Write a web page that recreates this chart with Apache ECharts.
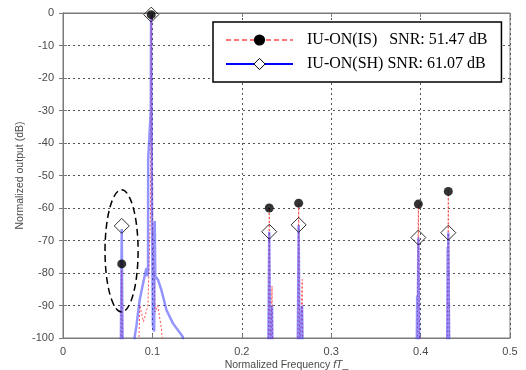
<!DOCTYPE html>
<html><head><meta charset="utf-8">
<script src="https://cdn.jsdelivr.net/npm/echarts@6/dist/echarts.min.js"></script>
<style>html,body{margin:0;padding:0;background:#fff}#c{width:526px;height:370px}</style>
</head><body><div id="c"></div>
<script>
// ---- data ----
var xTicks = ['0','0.1','0.2','0.3','0.4','0.5'];
var yTicks = ['0','-10','-20','-30','-40','-50','-60','-70','-80','-90','-100'];
var seriesNames = ['IU-ON(IS)', 'IU-ON(SH)'];
var legendLabels = ['IU-ON(IS)   SNR: 51.47 dB', 'IU-ON(SH) SNR: 61.07 dB'];
var peakFreq  = [0.0657, 0.0987, 0.2307, 0.2636, 0.3975, 0.4310];
var isPeakDb  = [-77.2, -0.5, -60.0, -58.5, -58.8, -54.9];
var shPeakDb  = [-65.5, -0.5, -67.3, -65.2, -69.1, -67.6];
// blue spectrum (SH)
var shFreq = [0, 0.0645, 0.0657, 0.0669, 0.0790, 0.0802, 0.0820, 0.0858, 0.0895, 0.0933, 0.0945, 0.0951, 0.0953, 0.0960, 0.0982, 0.0985, 0.0992, 0.0997, 0.1005, 0.1020, 0.1026, 0.1032, 0.1063, 0.1100, 0.1157, 0.1230, 0.1340, 0.1360,
              0.2295, 0.2307, 0.2319, 0.2330, 0.2338, 0.2346,
              0.2624, 0.2636, 0.2648, 0.2665, 0.2674, 0.2683,
              0.3955, 0.3962, 0.3967, 0.3975, 0.3987,
              0.4296, 0.4303, 0.4306, 0.4310, 0.4322, 0.5];
var shDb   = [-110, -110, -66.5, -110, -110, -99.6, -96.5, -88.3, -83.2, -78.5, -81, -80, -45, -45, -30, -0.5, -0.5, -64, -96, -98, -64, -81, -82.1, -85.2, -91.4, -95.5, -99.6, -110,
              -110, -67.3, -110, -110, -90, -110,
              -110, -65.2, -110, -110, -90, -110,
              -110, -87, -100, -69.1, -110,
              -110, -72, -90, -67.6, -110, -110];
// red spectrum (IS)
var isFreq = [0, 0.0645, 0.0657, 0.0669, 0.0840, 0.0860, 0.0900, 0.0950, 0.0980, 0.0987, 0.0995, 0.1030, 0.1060, 0.1100, 0.1150,
              0.2295, 0.2307, 0.2319, 0.2330, 0.2338, 0.2346,
              0.2624, 0.2636, 0.2648, 0.2665, 0.2676, 0.2685,
              0.3960, 0.3975, 0.3990,
              0.4295, 0.4310, 0.4325, 0.5];
var isDb   = [-110, -110, -79, -110, -110, -90, -95, -90, -60, -0.5, -60, -92, -90, -97, -110,
              -110, -60.0, -110, -110, -84, -110,
              -110, -58.5, -110, -110, -82, -110,
              -110, -58.8, -110,
              -110, -54.9, -110, -110];
// dashed ellipse annotation: centre freq, centre dB, half-width (freq), half-height (dB)
var ellipseSpec = [0.0655, -73.2, 0.0185, 18.8];

function pairs(a, b) { return a.map(function (v, i) { return [v, b[i]]; }); }

var chart = echarts.init(document.getElementById('c'), null, {renderer: 'canvas'});
var gray = '#7a7a7a';
var txt = '#4a4a4a';
var sans = 'Liberation Sans, Arial, sans-serif';
var option = {
  animation: false,
  grid: {left: 63, right: 16, top: 13, bottom: 32, outerBoundsMode: 'none', containLabel: false,
         show: true, borderColor: gray, borderWidth: 1, backgroundColor: '#fff'},
  legend: {
    orient: 'vertical', left: 213, top: 22,
    padding: [10, 14, 10, 12],
    itemWidth: 67, itemHeight: 14, itemGap: 8,
    backgroundColor: '#fff', borderColor: '#000', borderWidth: 1.5, borderRadius: 0,
    textStyle: {fontFamily: 'Liberation Serif, Times New Roman, serif', fontSize: 16, color: '#000', padding: [0, 0, 0, 9]},
    formatter: function (n) { return legendLabels[seriesNames.indexOf(n)]; },
    data: [
      {name: seriesNames[0], itemStyle: {color: '#000'}, lineStyle: {color: '#ff4d4d', type: [5, 3], width: 1.5}},
      {name: seriesNames[1], itemStyle: {color: '#fff', borderColor: '#000', borderWidth: 1}, lineStyle: {color: '#0000ff', width: 2, type: 'solid'}}
    ]
  },
  xAxis: [{
    type: 'value', min: 0, max: 0.5, interval: 0.1,
    name: '{n|Normalized Frequency }{i|fT}{n|_}', nameLocation: 'middle', nameGap: 21, nameMoveOverlap: false,
    nameTextStyle: {fontFamily: sans, fontSize: 10.5, color: txt, lineHeight: 12,
      rich: {n: {fontFamily: sans, fontSize: 10.5, color: txt, lineHeight: 12},
             i: {fontFamily: sans, fontSize: 10.5, color: txt, fontStyle: 'italic', lineHeight: 12}}},
    axisLine: {show: true, onZero: false, lineStyle: {color: gray}},
    axisTick: {show: true, inside: true, length: 4, lineStyle: {color: gray}},
    axisLabel: {fontFamily: sans, fontSize: 11, color: txt, margin: 8,
      formatter: function (v) { return xTicks[Math.round(v * 10)]; }},
    splitLine: {show: true, lineStyle: {color: '#555', type: [2, 3], width: 1}}
  }, {
    type: 'value', min: 0, max: 0.5, interval: 0.1, position: 'top',
    axisLine: {show: true, lineStyle: {color: gray}},
    axisTick: {show: true, inside: true, length: 4, lineStyle: {color: gray}},
    axisLabel: {show: false}, splitLine: {show: false}
  }],
  yAxis: [{
    type: 'value', min: -100, max: 0, interval: 10,
    name: 'Normalized output (dB)', nameLocation: 'middle', nameGap: 37, nameMoveOverlap: false,
    nameTextStyle: {fontFamily: sans, fontSize: 10.5, color: txt},
    axisLine: {show: true, onZero: false, lineStyle: {color: gray}},
    axisTick: {show: true, inside: true, length: 4, lineStyle: {color: gray}},
    axisLabel: {fontFamily: sans, fontSize: 11, color: txt, margin: 9,
      formatter: function (v) { return yTicks[Math.round(-v / 10)]; }},
    splitLine: {show: true, lineStyle: {color: '#555', type: [2, 3], width: 1}}
  }, {
    type: 'value', min: -100, max: 0, interval: 10, position: 'right',
    axisLine: {show: true, lineStyle: {color: gray}},
    axisTick: {show: true, inside: true, length: 4, lineStyle: {color: gray}},
    axisLabel: {show: false}, splitLine: {show: false}
  }],
  series: [
    {name: seriesNames[0], type: 'line', data: pairs(isFreq, isDb), showSymbol: false,
     symbol: 'circle', symbolSize: 9, clip: true, z: 2,
     lineStyle: {color: '#ff5050', width: 1, type: [2, 2]}, itemStyle: {color: '#000'}},
    {name: seriesNames[1], type: 'line', data: pairs(shFreq, shDb), showSymbol: false,
     symbol: 'diamond', symbolSize: 14, clip: true, z: 3,
     lineStyle: {color: 'rgba(60,60,255,0.55)', width: 2.5}, itemStyle: {color: '#fff', borderColor: '#000', borderWidth: 1}},
    {name: 'isMarks', type: 'scatter', data: pairs(peakFreq, isPeakDb), symbol: 'circle', symbolSize: 9,
     z: 4, clip: false, itemStyle: {color: '#000'}},
    {name: 'shMarks', type: 'scatter', data: pairs(peakFreq, shPeakDb), symbol: 'diamond', symbolSize: 15,
     z: 5, clip: false, itemStyle: {color: 'rgba(255,255,255,0)', borderColor: '#000', borderWidth: 1}}
  ]
};
chart.setOption(option);
var c0 = chart.convertToPixel({gridIndex: 0}, [ellipseSpec[0], ellipseSpec[1]]);
var c1 = chart.convertToPixel({gridIndex: 0}, [ellipseSpec[0] + ellipseSpec[2], ellipseSpec[1] + ellipseSpec[3]]);
chart.setOption({graphic: [{type: 'ellipse', z: 10, silent: true,
  shape: {cx: c0[0], cy: c0[1], rx: c1[0] - c0[0], ry: c0[1] - c1[1]},
  style: {fill: 'none', stroke: '#000', lineWidth: 1.5, lineDash: [7, 4]}}]});
</script></body></html>
